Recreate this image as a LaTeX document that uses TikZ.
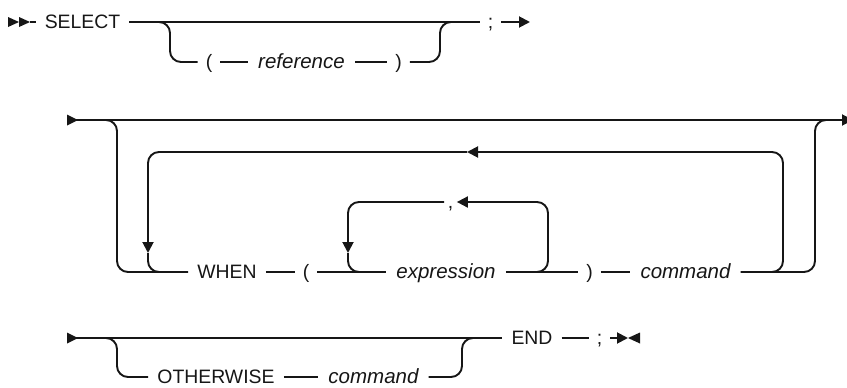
\documentclass[tikz,border=0pt]{standalone}
\usepackage{fontspec}
\setmainfont{Liberation Sans}
\usepackage{xcolor}
\usepackage{tikz}
\usetikzlibrary{arrows.meta,positioning}
\definecolor{railink}{RGB}{22,22,22}
\tikzset{
  kwbox/.style={
    inner xsep=9pt,
    inner ysep=0pt,
    text height=13.9pt,
    text depth=0pt,
    text=railink,
    font=\fontsize{19.4}{22}\selectfont
  },
  varbox/.style={
    kwbox,
    inner xsep=10pt,
    font=\fontsize{20.5}{24}\selectfont\itshape
  },
  punctbox/.style={
    kwbox,
    inner xsep=8pt
  },
  railway/.style={draw=railink,line width=1.9pt,rounded corners=11pt},
  railtip/.style={-{Triangle[length=11pt,width=11pt]}}
}
\begin{document}
\begin{tikzpicture}[x=1pt,y=-1pt]
\useasboundingbox (0,0) rectangle (847,388);
\node[kwbox] (select) at (82.5,22) {SELECT};
\node[punctbox] (lp1) at (209,62) {(};
\node[varbox] (ref) at (301.5,62) {reference};
\node[punctbox] (rp1) at (398.5,62) {)};
\node[punctbox] (semi1) at (490.5,22) {;};
\coordinate (start1) at (8,22);
\coordinate (tail1) at (30,22);
\coordinate (jl1) at (159,22);
\coordinate (jr1) at (440,22);
\coordinate (end1) at (530,22);
\fill[railink] (start1) ++(0,-5) -- ++(11,5) -- ++(-11,5) -- cycle;
\fill[railink] (start1) ++(11,-5) -- ++(11,5) -- ++(-11,5) -- cycle;
\draw[railway] (tail1) -- (select);
\draw[railway] (select) -- (semi1);
\draw[railway] (jl1) -- ++(11,0) |- (lp1);
\draw[railway] (lp1) -- (ref);
\draw[railway] (ref) -- (rp1);
\draw[railway] (rp1) -| (jr1) -- ++(11,0);
\draw[railway,railtip] (semi1) -- (end1);
\node[kwbox] (when) at (227,272) {WHEN};
\node[punctbox] (lp2) at (306,272) {(};
\node[varbox] (expr) at (446,272) {expression};
\node[punctbox] (rp2) at (589.5,272) {)};
\node[varbox] (cmd2) at (685.5,272) {command};
\node[punctbox,inner xsep=3.5pt] (comma) at (450.5,202) {,};
\coordinate (start2) at (67,120);
\coordinate (end2) at (853,120);
\coordinate (jl2) at (106,120);
\coordinate (jr2) at (815,120);
\coordinate (jo) at (772,272);
\coordinate (otip) at (467,152);
\coordinate (odown) at (148,253);
\coordinate (ojoin) at (180,272);
\coordinate (ji) at (537,272);
\coordinate (idown) at (348,253);
\coordinate (ijoin) at (380,272);
\fill[railink] (start2) ++(0,-5.5) -- ++(11,5.5) -- ++(-11,5.5) -- cycle;
\draw[railway,railtip] (start2) -- (end2);
\draw[railway] (jl2) -- ++(11,0) |- (when);
\draw[railway] (when) -- (lp2);
\draw[railway] (lp2) -- (expr);
\draw[railway] (expr) -- (rp2);
\draw[railway] (rp2) -- (cmd2);
\draw[railway] (cmd2) -| (jr2) -- ++(11,0);
\draw[railway,railtip] (jo) -- ++(11,0) |- (otip);
\draw[railway,railtip] (otip) -| (odown);
\draw[railway] (odown) |- (ojoin);
\draw[railway,railtip] (ji) -- ++(11,0) |- (comma);
\draw[railway,railtip] (comma) -| (idown);
\draw[railway] (idown) |- (ijoin);
\node[kwbox] (oth) at (216,377) {OTHERWISE};
\node[varbox] (cmd3) at (373.5,377) {command};
\node[kwbox] (endkw) at (532,338) {END};
\node[punctbox] (semi3) at (599.5,338) {;};
\coordinate (start3) at (67,338);
\coordinate (jl3) at (106,338);
\coordinate (jr3) at (462,338);
\coordinate (end3) at (628,338);
\fill[railink] (start3) ++(0,-5.5) -- ++(11,5.5) -- ++(-11,5.5) -- cycle;
\draw[railway] (start3) -- (endkw);
\draw[railway] (jl3) -- ++(11,0) |- (oth);
\draw[railway] (oth) -- (cmd3);
\draw[railway] (cmd3) -| (jr3) -- ++(11,0);
\draw[railway] (endkw) -- (semi3);
\draw[railway,railtip] (semi3) -- (end3);
\fill[railink] (end3) -- ++(12,-5.5) -- ++(0,11) -- cycle;
\end{tikzpicture}
\end{document}
